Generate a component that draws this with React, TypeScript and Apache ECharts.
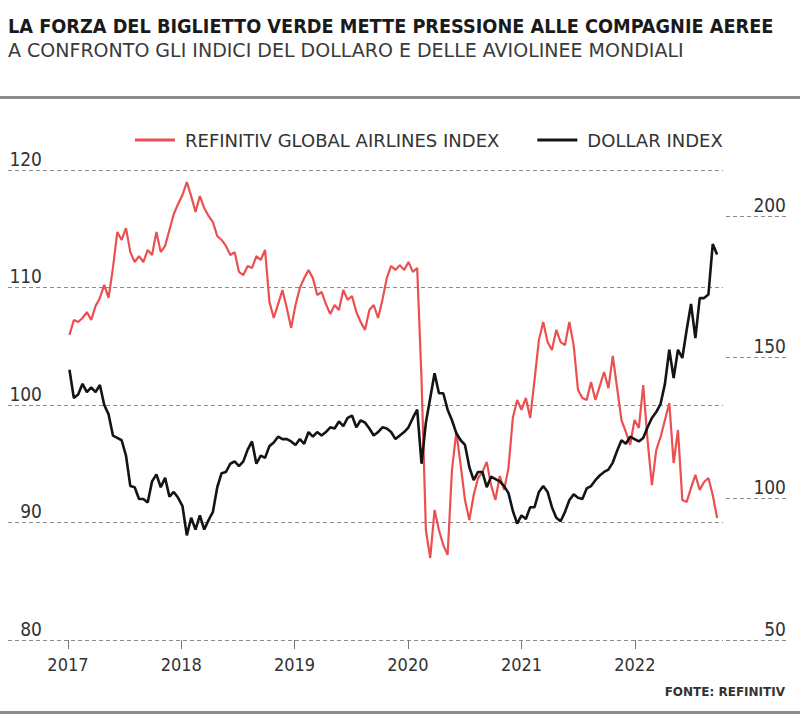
import React, { useEffect, useRef } from 'react';
import * as echarts from 'echarts';

const TITLE = 'LA FORZA DEL BIGLIETTO VERDE METTE PRESSIONE ALLE COMPAGNIE AEREE';
const SUBTITLE = 'A CONFRONTO GLI INDICI DEL DOLLARO E DELLE AVIOLINEE MONDIALI';
const SOURCE = 'FONTE: REFINITIV';
const seriesNames = ['REFINITIV GLOBAL AIRLINES INDEX', 'DOLLAR INDEX'];
const yearTicks = [2017, 2018, 2019, 2020, 2021, 2022];
const leftTicks = { min: 80, max: 120, interval: 10 };
const rightTicks = { min: 50, max: 200, interval: 50 };

// bi-weekly observations starting 6 Jan 2017
const firstObservation = [2017, 0, 6];
const observationStepDays = 14;

const airlinesIndex = [
  157.9, 163.2, 162.5, 163.9, 166.0, 163.2, 168.1, 171.0, 175.6, 171.0,
  181.6, 194.3, 191.5, 195.7, 187.2, 183.7, 185.8, 183.7, 188.0, 186.2,
  194.3, 187.2, 189.4, 195.0, 200.7, 204.2, 207.4, 212.0, 207.0, 201.4,
  207.0, 202.8, 200.0, 197.8, 192.9, 191.5, 189.4, 186.2, 187.2, 180.2,
  179.1, 182.3, 181.6, 185.8, 184.4, 188.0, 169.6, 163.9, 168.8, 173.8,
  167.4, 160.4, 168.5, 174.5, 178.0, 180.9, 178.0, 172.0, 173.1, 168.8,
  165.3, 168.5, 166.7, 173.8, 170.3, 171.7, 166.0, 162.5, 159.7, 166.7,
  168.5, 163.9, 170.3, 178.0, 182.3, 180.9, 182.6, 180.9, 183.7, 180.2,
  181.6, 142.0, 88.9, 79.0, 96.0, 88.9, 83.6, 80.1, 110.1, 123.6,
  111.9, 99.5, 92.4, 101.3, 107.3, 109.4, 113.0, 104.8, 99.5, 108.0,
  103.1, 110.8, 128.5, 134.9, 131.4, 135.6, 128.5, 142.0, 156.1, 162.5,
  155.4, 152.6, 159.7, 155.4, 154.3, 162.5, 154.3, 138.4, 135.6, 134.9,
  141.3, 134.9, 139.8, 144.8, 139.1, 150.5, 139.1, 127.8, 123.6, 119.0,
  127.8, 125.0, 140.2, 120.7, 104.8, 117.2, 121.8, 127.8, 133.8, 112.6,
  124.3, 99.5, 98.8, 103.8, 108.4, 103.1, 105.9, 107.3, 101.3, 93.1,
];

const dollarIndex = [
  103.0, 100.6, 100.9, 101.8, 101.1, 101.5, 101.1, 101.7, 100.0, 99.2,
  97.4, 97.2, 97.0, 95.7, 93.1, 93.0, 92.0, 92.0, 91.7, 93.5,
  94.1, 93.0, 93.8, 92.2, 92.6, 92.1, 91.4, 88.9, 90.4, 89.4,
  90.6, 89.4, 90.2, 90.9, 93.0, 94.2, 94.3, 95.0, 95.2, 94.8,
  95.2, 96.2, 96.9, 95.0, 95.7, 95.5, 96.5, 96.8, 97.3, 97.1,
  97.1, 96.9, 96.6, 97.1, 96.7, 97.7, 97.3, 97.7, 97.4, 97.7,
  98.1, 98.0, 98.6, 98.2, 98.9, 99.1, 98.1, 98.7, 98.5, 98.0,
  97.4, 97.7, 98.1, 98.0, 97.7, 97.1, 97.4, 97.7, 98.1, 98.9,
  99.6, 95.0, 98.5, 100.6, 102.7, 101.0, 101.0, 99.6, 98.7, 97.6,
  97.0, 96.6, 94.7, 93.6, 94.3, 94.3, 93.0, 93.9, 93.7, 93.5,
  93.1, 92.5, 91.0, 89.9, 90.6, 90.3, 91.3, 91.3, 92.6, 93.1,
  92.6, 91.3, 90.4, 90.1, 90.9, 91.9, 92.4, 92.1, 92.0, 92.9,
  93.1, 93.6, 94.0, 94.3, 94.5, 95.1, 96.1, 97.0, 96.7, 97.3,
  97.1, 96.9, 97.2, 98.1, 98.9, 99.4, 100.1, 101.8, 104.7, 102.3,
  104.7, 104.0, 106.4, 108.6, 105.7, 109.1, 109.1, 109.4, 113.7, 112.8,
];

const FONT = '"DejaVu Sans Condensed", "Liberation Sans Narrow", "DejaVu Sans", sans-serif';
const FONT_WIDE = '"DejaVu Sans", sans-serif';
const RED = '#eb5050';
const BLACK = '#141414';
const GRID_COLOR = '#8a8a8a';
const TEXT_COLOR = '#333333';

const DAY = 86400000;

export default function App() {
  const ref = useRef<HTMLDivElement>(null);

  useEffect(() => {
    document.body.style.margin = '0';
    if (!ref.current) return;
    const chart = echarts.init(ref.current, undefined, { renderer: 'svg' });

    const t0 = Date.UTC(firstObservation[0], firstObservation[1], firstObservation[2]);
    const dates = dollarIndex.map((_, i) => t0 + i * observationStepDays * DAY);
    const yearTs = yearTicks.map((y) => Date.UTC(y, 0, 1));
    const xMin = Date.UTC(2016, 5, 22);
    const xMax = Date.UTC(2022, 9, 12);

    const option: any = {
      animation: false,
      backgroundColor: '#ffffff',
      textStyle: { fontFamily: FONT },
      grid: [
        { left: 8, right: 77, top: 170, bottom: 81 },
        { left: 726, right: 14, top: 216, bottom: 81 },
      ],
      legend: {
        left: 135,
        top: 131,
        padding: 0,
        itemWidth: 40,
        itemHeight: 3,
        itemGap: 38,
        icon: 'rect',
        data: seriesNames,
        textStyle: { fontFamily: FONT_WIDE, fontSize: 18, color: TEXT_COLOR, padding: [0, 0, 0, 5] },
      },
      xAxis: [
        {
          type: 'value',
          gridIndex: 0,
          min: xMin,
          max: xMax,
          axisLine: { show: false },
          axisTick: { show: true, customValues: yearTs, length: 9, lineStyle: { color: '#777' } },
          axisLabel: {
            customValues: yearTs,
            formatter: (v: number) => String(new Date(v).getUTCFullYear()),
            color: TEXT_COLOR,
            fontFamily: FONT,
            fontSize: 18,
            margin: 15,
          },
          splitLine: { show: false },
        },
        { type: 'value', gridIndex: 1, min: 0, max: 1, show: false },
      ],
      yAxis: [
        {
          type: 'value',
          gridIndex: 0,
          min: leftTicks.min,
          max: leftTicks.max,
          interval: leftTicks.interval,
          position: 'left',
          axisLine: { show: false },
          axisTick: { show: false },
          axisLabel: {
            inside: true,
            align: 'right',
            verticalAlign: 'bottom',
            margin: 34,
            padding: [0, 0, 2, 0],
            color: TEXT_COLOR,
            fontFamily: FONT,
            fontSize: 19,
          },
          splitLine: { show: true, lineStyle: { type: [4, 3], color: GRID_COLOR, width: 1 } },
        },
        { type: 'value', gridIndex: 0, min: 50, max: 216.25, show: false },
        {
          type: 'value',
          gridIndex: 1,
          min: rightTicks.min,
          max: rightTicks.max,
          interval: rightTicks.interval,
          position: 'right',
          axisLine: { show: false },
          axisTick: { show: false },
          axisLabel: {
            inside: true,
            align: 'right',
            verticalAlign: 'bottom',
            margin: 0,
            padding: [0, 0, 2, 0],
            color: TEXT_COLOR,
            fontFamily: FONT,
            fontSize: 19,
          },
          splitLine: { show: true, lineStyle: { type: [4, 3], color: GRID_COLOR, width: 1 } },
        },
      ],
      series: [
        {
          name: seriesNames[0],
          type: 'line',
          xAxisIndex: 0,
          yAxisIndex: 1,
          data: airlinesIndex.map((v, i) => [dates[i], v]),
          showSymbol: false,
          color: RED,
          lineStyle: { color: RED, width: 2.2 },
        },
        {
          name: seriesNames[1],
          type: 'line',
          xAxisIndex: 0,
          yAxisIndex: 0,
          data: dollarIndex.map((v, i) => [dates[i], v]),
          showSymbol: false,
          color: BLACK,
          lineStyle: { color: BLACK, width: 2.6 },
        },
      ],
      graphic: [
        {
          type: 'text',
          x: 8,
          y: 26,
          style: { text: TITLE, fontFamily: FONT, fontWeight: 'bold', fontSize: 19.7, fill: '#1a1a1a', verticalAlign: 'middle' },
        },
        {
          type: 'text',
          x: 8,
          y: 50,
          style: { text: SUBTITLE, fontFamily: FONT_WIDE, fontSize: 19, fill: '#3a3a3a', verticalAlign: 'middle' },
        },
        { type: 'rect', shape: { x: 0, y: 96, width: 800, height: 3 }, style: { fill: '#8c8c8c' } },
        { type: 'rect', shape: { x: 0, y: 711, width: 800, height: 3 }, style: { fill: '#8c8c8c' } },
        {
          type: 'text',
          x: 785,
          y: 692,
          style: { text: SOURCE, fontFamily: FONT_WIDE, fontWeight: 'bold', fontSize: 12, fill: '#333', align: 'right', verticalAlign: 'middle' },
        },
      ],
    };

    chart.setOption(option);
    return () => chart.dispose();
  }, []);

  return <div ref={ref} style={{ width: 800, height: 721 }} />;
}
